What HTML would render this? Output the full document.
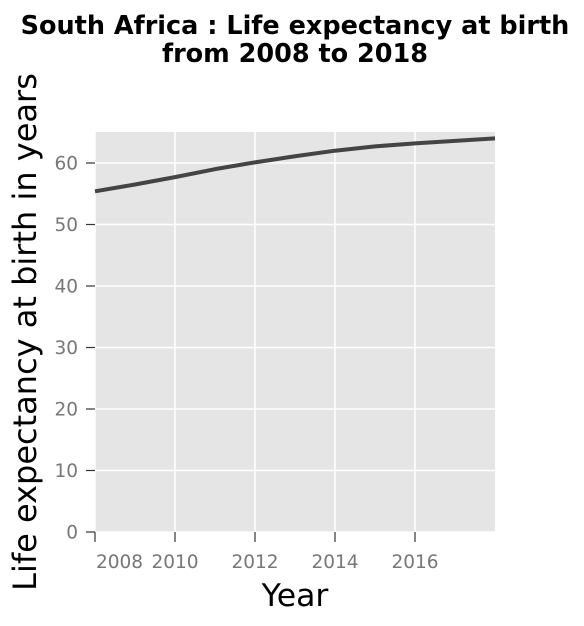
<!DOCTYPE html>
<html><head><meta charset="utf-8"><style>
body{margin:0;background:#fff;font-family:"DejaVu Sans",sans-serif;}
</style></head><body>
<svg id="chart" width="584" height="622" xmlns="http://www.w3.org/2000/svg" font-family="DejaVu Sans, sans-serif">
<text x="295" y="34" text-anchor="middle" font-size="25.5" font-weight="bold">South Africa : Life expectancy at birth</text>
<text x="295" y="62" text-anchor="middle" font-size="25.5" font-weight="bold">from 2008 to 2018</text>
<rect x="95" y="132" width="400" height="400" fill="#e5e5e5"/>
<g id="grid"></g><g id="ticks"></g><g id="series"></g>
<text x="295" y="606" text-anchor="middle" font-size="31.5">Year</text>
<text transform="translate(36,332) rotate(-90)" text-anchor="middle" font-size="32">Life expectancy at birth in years</text>
</svg>
<script>
const years=[2008,2009,2010,2011,2012,2013,2014,2015,2016,2017,2018];
const lifeExp=[55.4,56.5,57.7,59.0,60.1,61.1,62.0,62.7,63.2,63.6,64.0];
const xTicks=[2008,2010,2012,2014,2016];
const yTicks=[0,10,20,30,40,50,60];
const ns="http://www.w3.org/2000/svg";
const X=v=>95+(v-2008)*40;
const Y=v=>532-v*6.15;
function mk(t,a,p){const e=document.createElementNS(ns,t);for(const k in a)e.setAttribute(k,a[k]);p.appendChild(e);return e;}
const grid=document.getElementById('grid'),ticks=document.getElementById('ticks'),series=document.getElementById('series');
xTicks.forEach((t,i)=>{
 const g=mk('line',{x1:X(t),x2:X(t),y1:132,y2:532,stroke:'#fff','stroke-width':1.5},grid);
 
 
 const tk=mk('line',{x1:X(t),x2:X(t),y1:532,y2:542,stroke:'#333','stroke-width':1.2},ticks);
 
 
 const lb=mk('text',{x:i===0?X(t)+1:X(t),y:568,'text-anchor':i===0?'start':'middle','font-size':18.5,fill:'#777'},ticks);
 
 
 lb.textContent=t;
});
yTicks.forEach(t=>{
 const g=mk('line',{x1:95,x2:495,y1:Y(t),y2:Y(t),stroke:'#fff','stroke-width':1.5},grid);
 
 
 const tk=mk('line',{x1:86,x2:95,y1:Y(t),y2:Y(t),stroke:'#333','stroke-width':1.2},ticks);
 
 
 const lb=mk('text',{x:78,y:Y(t)+6.5,'text-anchor':'end','font-size':18.5,fill:'#777'},ticks);
 
 
 lb.textContent=t;
});
const d=years.map((y,i)=>(i?'L':'M')+X(y)+','+Y(lifeExp[i])).join(' ');
const p=mk('path',{d:d,fill:'none',stroke:'#444','stroke-width':4,'stroke-linejoin':'round'},series);


</script>
</body></html>
